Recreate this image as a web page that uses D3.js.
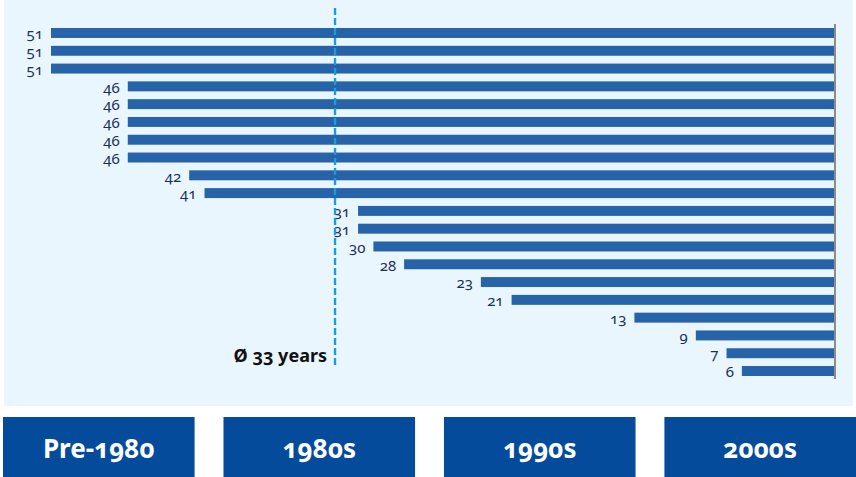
<!DOCTYPE html>
<html>
<head>
<meta charset="utf-8">
<script src="https://cdn.jsdelivr.net/npm/d3@7"></script>
<style>
  body { margin: 0; background: #fff; }
  svg { display: block; font-family: "Noto Sans", "Open Sans", sans-serif; }
  .num { font-feature-settings: "onum" 1; font-variant-numeric: oldstyle-nums; }
</style>
</head>
<body>
<svg width="856" height="477"></svg>
<script>
// building ages in years, one bar per row
var ages = [51, 51, 51, 46, 46, 46, 46, 46, 42, 41, 31, 31, 30, 28, 23, 21, 13, 9, 7, 6];
var decades = ["Pre-1980", "1980s", "1990s", "2000s"];
var avgLine = 32.5;
var avgLabel = "Ø 33 years";

var width = 856,
  height = 477;

var svg = d3.select("svg");

// light panel behind the bars
svg.append("rect")
  .attr("x", 4).attr("y", 0)
  .attr("width", 849).attr("height", 406)
  .attr("fill", "#eaf6fe");

var x = d3.scaleLinear().domain([0, 51]).range([834, 51]);

var y = d3.scaleBand()
  .domain(d3.range(ages.length))
  .range([28, 376])
  .paddingInner(0.44)
  .paddingOuter(0);

var g = svg.append("g");

g.selectAll("rect.bar")
  .data(ages)
  .enter()
  .append("rect")
  .attr("class", "bar")
  .attr("x", (d) => x(d))
  .attr("y", (d, i) => y(i))
  .attr("width", (d) => x(0) - x(d))
  .attr("height", y.bandwidth())
  .attr("fill", "#2663a9");

g.selectAll("text.lbl")
  .data(ages)
  .enter()
  .append("text")
  .attr("class", "lbl num")
  .attr("x", (d) => x(d) - 8)
  .attr("y", (d, i) => y(i) + y.bandwidth() / 2 + 1)
  .attr("dy", "0.35em")
  .attr("text-anchor", "end")
  .attr("font-size", 15)
  .attr("fill", "#1b2f5a")
  .text((d) => d);

// zero line on the right
svg.append("line")
  .attr("x1", x(0) + 1).attr("x2", x(0) + 1)
  .attr("y1", 24).attr("y2", 379)
  .attr("stroke", "#8c8c8c")
  .attr("stroke-width", 2);

// average marker
svg.append("line")
  .attr("x1", x(avgLine)).attr("x2", x(avgLine))
  .attr("y1", 8).attr("y2", 368)
  .attr("stroke", "#1b9be0")
  .attr("stroke-width", 2.4)
  .attr("stroke-dasharray", "7,3");

svg.append("text")
  .attr("class", "num")
  .attr("x", x(avgLine) - 8)
  .attr("y", 362)
  .attr("text-anchor", "end")
  .attr("font-size", 18)
  .attr("font-weight", "bold")
  .attr("fill", "#111")
  .text(avgLabel);

// decade boxes along the bottom
var band = d3.scaleBand()
  .domain(decades)
  .range([3, 856])
  .paddingInner(0.131)
  .paddingOuter(0);

var boxes = svg.selectAll("g.box")
  .data(decades)
  .enter()
  .append("g")
  .attr("class", "box")
  .attr("transform", (d) => "translate(" + band(d) + ",417)");

boxes.append("rect")
  .attr("width", band.bandwidth())
  .attr("height", 60)
  .attr("fill", "#044b9c");

boxes.append("text")
  .attr("class", "num")
  .attr("x", band.bandwidth() / 2)
  .attr("y", 41)
  .attr("text-anchor", "middle")
  .attr("font-size", 26)
  .attr("font-weight", "bold")
  .attr("fill", "#fff")
  .text((d) => d);
</script>
</body>
</html>
